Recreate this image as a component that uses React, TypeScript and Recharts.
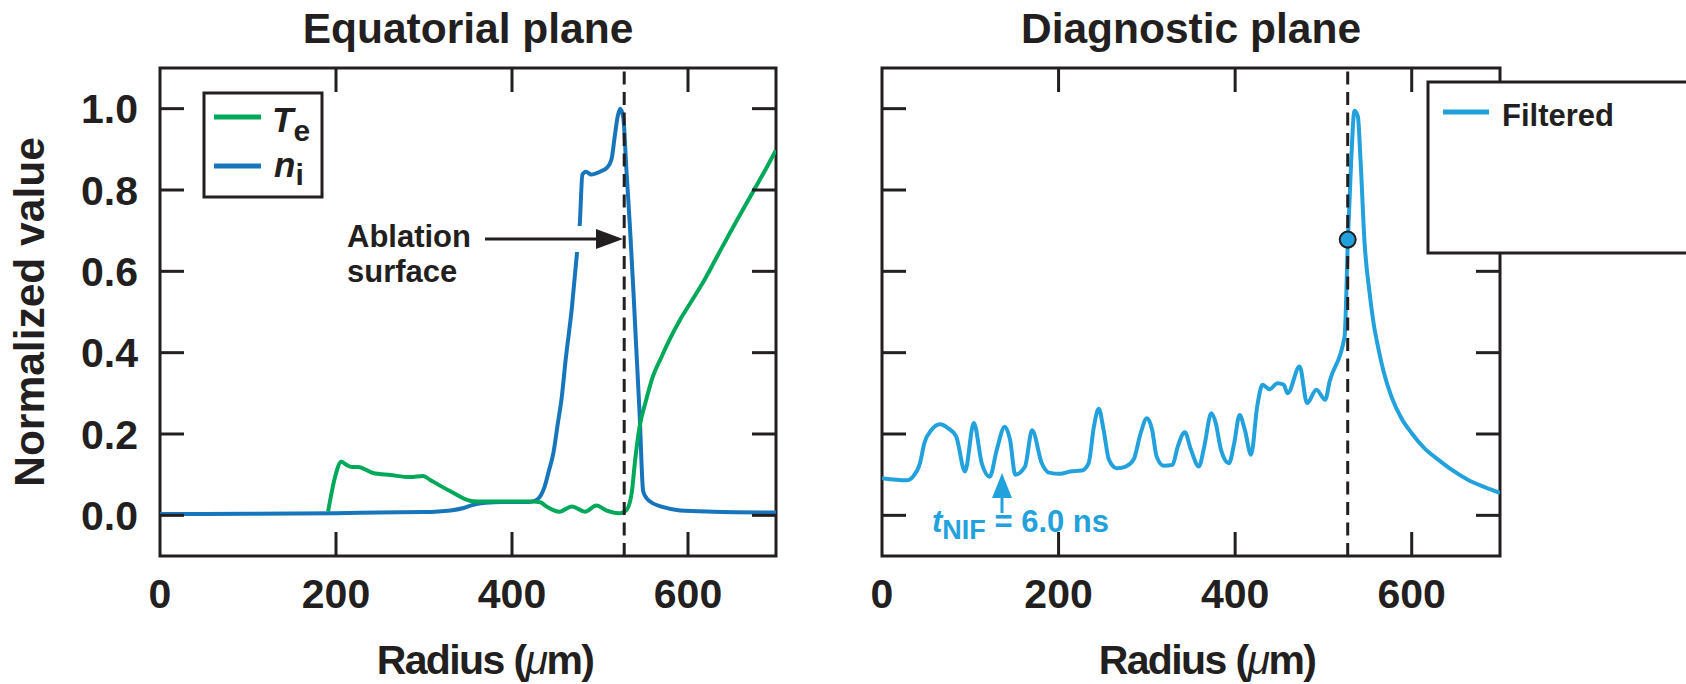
import React from 'react'
import { LineChart, Line, XAxis, YAxis, ReferenceLine, ReferenceArea, ReferenceDot } from 'recharts'

const INK = '#231f20'
const GREEN = '#00a85a'
const BLUE = '#1775bc'
const CYAN = '#22a1dc'
const FONT = '"Liberation Sans", Arial, Helvetica, sans-serif'

const radiusTicks = [0, 200, 400, 600]
const innerRadiusTicks = [200, 400, 600]
const valueTicks = [0, 0.2, 0.4, 0.6, 0.8, 1.0]
const ablationRadius = 527.5
const markerValue = 0.678

// Equatorial plane: electron temperature
const teRadius = [191, 199, 206, 212, 218, 225, 242, 262, 284, 299, 307, 330, 352, 360, 395, 424, 432, 439, 454, 468, 483, 496, 507, 522, 530, 536, 540, 545, 552, 560, 570, 579, 591, 605, 619, 634, 649, 662, 675, 688, 700]
const teValue = [0.009, 0.095, 0.132, 0.124, 0.119, 0.119, 0.104, 0.099, 0.094, 0.097, 0.087, 0.059, 0.036, 0.034, 0.034, 0.034, 0.032, 0.022, 0.009, 0.022, 0.009, 0.024, 0.012, 0.005, 0.013, 0.055, 0.137, 0.218, 0.28, 0.341, 0.39, 0.432, 0.481, 0.53, 0.58, 0.64, 0.70, 0.75, 0.80, 0.85, 0.898]

// Equatorial plane: ion density
const niRadius = [0, 100, 200, 250, 300, 330, 345, 356, 370, 390, 420, 428, 433, 437, 442, 447, 452, 456.5, 461, 468, 474, 477, 480, 484, 490, 500, 508, 513, 517, 520, 523, 526.5, 530, 534, 538, 541, 545, 549, 553, 557, 572, 591, 628, 700]
const niValue = [0.003, 0.004, 0.005, 0.007, 0.008, 0.012, 0.018, 0.026, 0.031, 0.033, 0.033, 0.038, 0.05, 0.07, 0.11, 0.153, 0.225, 0.29, 0.383, 0.51, 0.649, 0.715, 0.838, 0.845, 0.838, 0.845, 0.855, 0.875, 0.936, 0.98, 1.0, 0.977, 0.85, 0.71, 0.55, 0.42, 0.25, 0.06, 0.042, 0.034, 0.02, 0.012, 0.009, 0.007]

// Diagnostic plane: filtered signal
const filtRadius = [0, 28, 35, 43, 48, 56, 66, 75, 84, 94, 104, 113, 122, 130, 139, 145, 151, 162, 170, 181, 189, 202, 213, 226, 234, 240, 245.5, 251, 257, 266, 276, 285, 293, 300, 306, 311, 319, 329, 335, 343, 350, 359, 365, 373, 378, 384, 393, 399, 405, 411, 418, 425, 431, 439, 448, 455, 459.5, 473, 481.5, 492, 502, 507, 524, 527.7, 531.5, 535.2, 539, 542, 546.6, 552.3, 557, 561.8, 568, 577, 588, 600, 614, 630, 646, 664, 682, 700]
const filtValue = [0.091, 0.086, 0.095, 0.128, 0.178, 0.21, 0.224, 0.214, 0.194, 0.108, 0.227, 0.128, 0.095, 0.161, 0.218, 0.186, 0.1, 0.12, 0.209, 0.128, 0.105, 0.102, 0.108, 0.11, 0.128, 0.218, 0.262, 0.21, 0.137, 0.116, 0.12, 0.137, 0.202, 0.239, 0.21, 0.145, 0.122, 0.124, 0.169, 0.204, 0.161, 0.12, 0.169, 0.251, 0.227, 0.161, 0.128, 0.178, 0.247, 0.21, 0.149, 0.268, 0.321, 0.31, 0.325, 0.321, 0.3, 0.366, 0.276, 0.309, 0.284, 0.329, 0.44, 0.678, 0.875, 0.995, 0.981, 0.875, 0.67, 0.547, 0.47, 0.415, 0.355, 0.292, 0.24, 0.202, 0.166, 0.137, 0.111, 0.087, 0.07, 0.055]

const zip = (rs: number[], vs: number[]) => rs.map((r, i) => ({ r, v: vs[i] }))
const teData = zip(teRadius, teValue)
const niData = zip(niRadius, niValue)
const filtData = zip(filtRadius, filtValue)

const Y_MIN = -0.1
const Y_MAX = 1.1
const tickText = { fontSize: 41, fontWeight: 700, fill: INK, fontFamily: FONT }
const TICK_LEN = 24
const TICK_LEN_Y = 0.059 // same 24px, in value units
const LABEL_GAP = 22

// inward tick mark (plus optional label) for the value axes
function makeTick(side: 'left' | 'right', withLabel: boolean) {
  return (props: any) => {
    const { x, y, payload } = props
    const mark = { stroke: INK, strokeWidth: 3 }
    if (side === 'left') {
      const ax = x + LABEL_GAP
      return (
        <g>
          <line x1={ax} x2={ax + TICK_LEN} y1={y} y2={y} {...mark} />
          {withLabel && <text x={x} y={y} dy="0.36em" textAnchor="end" {...tickText}>{payload.value.toFixed(1)}</text>}
        </g>
      )
    }
    return <line x1={x} x2={x - TICK_LEN} y1={y} y2={y} {...mark} />
  }
}

const radiusLabel = (props: any) => (
  <text x={props.x} y={props.y} dy="0.72em" textAnchor="middle" {...tickText}>{props.payload.value}</text>
)

function Panel({ left, width, margin, showY, children }: any) {
  return (
    <div style={{ position: 'absolute', left, top: 0 }}>
      <LineChart width={width} height={684} margin={margin}>
        <XAxis dataKey="r" type="number" domain={[0, 700]} ticks={radiusTicks} height={1}
          tickSize={0} tickMargin={LABEL_GAP} axisLine={false} tickLine={false}
          tick={radiusLabel} interval={0} allowDataOverflow />
        <YAxis type="number" domain={[Y_MIN, Y_MAX]} ticks={valueTicks} width={1}
          tickSize={0} tickMargin={LABEL_GAP} axisLine={false} tickLine={false}
          tick={makeTick('left', showY)} interval={0} allowDataOverflow />
        <YAxis yAxisId="right" orientation="right" type="number" domain={[Y_MIN, Y_MAX]} ticks={valueTicks} width={1}
          tickSize={0} tickMargin={0} axisLine={false} tickLine={false}
          tick={makeTick('right', false)} interval={0} allowDataOverflow />
        {innerRadiusTicks.map(t => (
          <ReferenceLine key={'b' + t} segment={[{ x: t, y: Y_MIN }, { x: t, y: Y_MIN + TICK_LEN_Y }]} stroke={INK} strokeWidth={3} />
        ))}
        {innerRadiusTicks.map(t => (
          <ReferenceLine key={'t' + t} segment={[{ x: t, y: Y_MAX }, { x: t, y: Y_MAX - TICK_LEN_Y }]} stroke={INK} strokeWidth={3} />
        ))}
        {children}
        <ReferenceLine x={ablationRadius} stroke={INK} strokeWidth={3} strokeDasharray="13 7.5" />
        <ReferenceArea x1={0} x2={700} y1={Y_MIN} y2={Y_MAX} fill="none" stroke={INK} strokeWidth={3} ifOverflow="visible" />
      </LineChart>
    </div>
  )
}

export default function App() {
  return (
    <div style={{ position: 'absolute', left: 0, top: 0, width: 1686, height: 684, overflow: 'hidden', background: '#fff' }}>
      <Panel left={0} width={800} margin={{ top: 68, right: 23, bottom: 127, left: 159 }} showY>
        <Line data={niData} dataKey="v" type="monotone" stroke={BLUE} strokeWidth={4} dot={false} activeDot={false} isAnimationActive={false} />
        <Line data={teData} dataKey="v" type="monotone" stroke={GREEN} strokeWidth={4} dot={false} activeDot={false} isAnimationActive={false} />
      </Panel>
      <Panel left={843} width={843} margin={{ top: 68, right: 185, bottom: 127, left: 38 }} showY={false}>
        <Line data={filtData} dataKey="v" type="monotone" stroke={CYAN} strokeWidth={4} dot={false} activeDot={false} isAnimationActive={false} />
        <ReferenceDot x={ablationRadius} y={markerValue} r={8} fill={CYAN} stroke={INK} strokeWidth={2} />
      </Panel>

      <svg width={1686} height={684} style={{ position: 'absolute', left: 0, top: 0, pointerEvents: 'none' }}
        fontFamily={FONT} fontWeight={700}>
        <text x={468} y={43} fontSize={42.5} textAnchor="middle" fill={INK}>Equatorial plane</text>
        <text x={1191} y={43} fontSize={42.5} textAnchor="middle" fill={INK}>Diagnostic plane</text>
        <text x={485} y={674} fontSize={41} letterSpacing={-1.6} textAnchor="middle" fill={INK}>
          Radius (<tspan fontStyle="italic" fontWeight={400}>μ</tspan>m)
        </text>
        <text x={1207} y={674} fontSize={41} letterSpacing={-1.6} textAnchor="middle" fill={INK}>
          Radius (<tspan fontStyle="italic" fontWeight={400}>μ</tspan>m)
        </text>
        <text transform="translate(44 312) rotate(-90)" fontSize={42.5} textAnchor="middle" fill={INK}>Normalized value</text>

        {/* left legend */}
        <rect x={204} y={93} width={118} height={104} fill="#fff" stroke={INK} strokeWidth={3} />
        <line x1={214} x2={261} y1={117} y2={117} stroke={GREEN} strokeWidth={5} />
        <line x1={214} x2={261} y1={166} y2={166} stroke={BLUE} strokeWidth={5} />
        <text x={272} y={132} fontSize={35} fill={INK}>
          <tspan fontStyle="italic">T</tspan><tspan fontSize={30} dy={9}>e</tspan>
        </text>
        <text x={274} y={177} fontSize={35} fill={INK}>
          <tspan fontStyle="italic">n</tspan><tspan fontSize={30} dy={8}>i</tspan>
        </text>

        {/* ablation surface annotation */}
        <line x1={492} x2={596} y1={239} y2={239} stroke="#fff" strokeWidth={26} />
        <line x1={485} x2={600} y1={239} y2={239} stroke={INK} strokeWidth={3} />
        <polygon points="623,239 596,229 596,249" fill={INK} />
        <text x={347} y={247} fontSize={31} fill={INK}>Ablation</text>
        <text x={347} y={282} fontSize={31} fill={INK}>surface</text>

        {/* time annotation */}
        <line x1={1002} x2={1002} y1={513} y2={490} stroke={CYAN} strokeWidth={3} />
        <polygon points="1002,473 992,498 1012,498" fill={CYAN} />
        <text x={932} y={532} fontSize={31} fill={CYAN}>
          <tspan fontStyle="italic">t</tspan><tspan fontSize={27} dy={7}>NIF</tspan><tspan dy={-7}> = 6.0 ns</tspan>
        </text>

        {/* right legend */}
        <rect x={1428} y={82} width={300} height={171} fill="#fff" stroke={INK} strokeWidth={3} />
        <line x1={1443} x2={1489} y1={112} y2={112} stroke={CYAN} strokeWidth={5} />
        <text x={1502} y={126} fontSize={31} fill={INK}>Filtered</text>
      </svg>
    </div>
  )
}
